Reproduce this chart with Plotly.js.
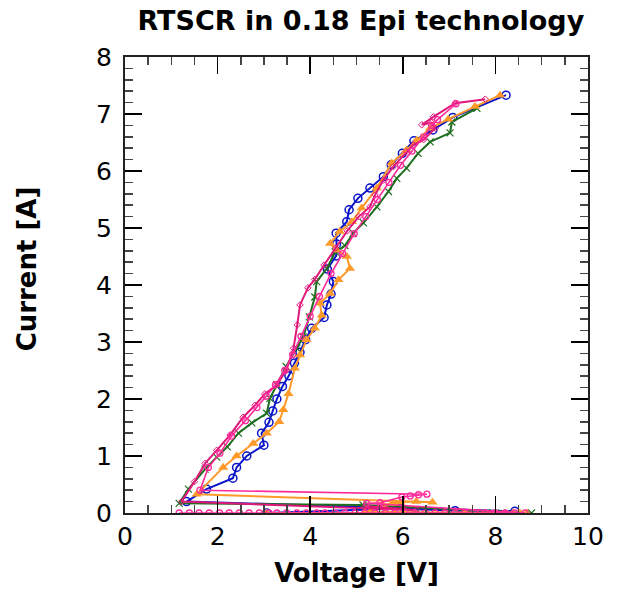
<!DOCTYPE html>
<html>
<head>
<meta charset="utf-8">
<script src="https://cdn.plot.ly/plotly-3.0.1.min.js"></script>
<style>html,body{margin:0;padding:0;background:#fff;}#chart{width:618px;height:593px;}</style>
</head>
<body>
<div id="chart"></div>
<script>
// Blue trace (open circles)
const blueV = [3.06, 5.94, 7.13, 8.42, 1.33, 1.76, 2.33, 2.41, 2.63, 3.00, 2.95, 3.11, 3.19, 3.28, 3.40, 3.54, 3.66, 3.78, 3.90, 4.03, 4.30, 4.36, 4.45, 4.50, 4.37, 4.56, 4.57, 4.56, 4.79, 4.84, 5.03, 5.29, 5.58, 5.75, 5.99, 6.24, 6.65, 7.08, 8.23];
const blueI = [0.00, 0.08, 0.04, 0.03, 0.20, 0.42, 0.61, 0.80, 1.00, 1.19, 1.40, 1.59, 1.79, 2.00, 2.22, 2.41, 2.63, 2.82, 3.04, 3.24, 3.43, 3.65, 3.84, 4.06, 4.28, 4.51, 4.72, 4.91, 5.11, 5.32, 5.52, 5.70, 5.90, 6.11, 6.31, 6.53, 6.72, 6.94, 7.33];

// Green trace (x markers)
const greenV = [6.26, 7.40, 7.81, 7.95, 8.14, 8.78, 5.14, 1.17, 1.37, 1.73, 1.98, 2.21, 2.45, 2.74, 3.06, 3.13, 3.28, 3.48, 3.71, 3.85, 3.98, 4.10, 4.14, 4.36, 4.54, 4.75, 4.93, 5.15, 5.44, 5.69, 5.87, 6.08, 6.33, 6.59, 7.02, 7.06, 7.60];
const greenI = [0.00, 0.00, 0.00, 0.00, 0.00, 0.00, 0.14, 0.17, 0.42, 0.77, 0.98, 1.16, 1.40, 1.58, 1.75, 2.01, 2.25, 2.57, 2.89, 3.09, 3.44, 3.79, 4.06, 4.29, 4.58, 4.69, 4.91, 5.09, 5.37, 5.64, 5.87, 6.05, 6.31, 6.51, 6.67, 6.86, 7.10];

// Orange trace (filled triangles)
const orangeV = [3.06, 7.34, 8.38, 8.53, 8.68, 5.18, 5.57, 5.78, 5.94, 6.29, 6.64, 1.55, 2.12, 2.41, 2.77, 3.06, 3.33, 3.42, 3.53, 3.67, 3.78, 3.92, 4.10, 4.25, 4.21, 4.43, 4.61, 4.86, 4.79, 4.57, 4.43, 4.64, 4.90, 5.11, 5.44, 5.76, 6.08, 6.30, 6.59, 6.98, 7.56, 8.10];
const orangeI = [0.00, 0.00, 0.00, 0.00, 0.00, 0.02, 0.14, 0.17, 0.19, 0.20, 0.19, 0.33, 0.80, 1.00, 1.22, 1.40, 1.60, 1.81, 2.09, 2.54, 2.77, 3.04, 3.24, 3.47, 3.68, 3.85, 4.09, 4.29, 4.50, 4.61, 4.73, 4.94, 5.11, 5.35, 5.70, 6.14, 6.37, 6.54, 6.75, 6.91, 7.13, 7.33];

// Magenta trace (small diamonds)
const magV = [5.20, 5.60, 6.00, 6.30, 1.22, 1.50, 1.73, 1.98, 2.27, 2.55, 2.81, 3.02, 3.28, 3.49, 3.64, 3.72, 3.78, 3.95, 4.10, 4.30, 4.55, 4.80, 5.05, 5.29, 5.40, 5.58, 5.80, 6.08, 6.23, 6.45, 6.70, 6.62, 6.41, 6.66, 7.13, 7.78];
const magI = [0.12, 0.10, 0.07, 0.05, 0.20, 0.55, 0.87, 1.10, 1.37, 1.68, 1.89, 2.09, 2.25, 2.51, 2.89, 3.30, 3.65, 3.95, 4.10, 4.35, 4.65, 4.95, 5.20, 5.37, 5.58, 5.84, 6.08, 6.34, 6.46, 6.55, 6.75, 6.85, 6.81, 6.95, 7.19, 7.26];

// Pink trace (open markers, leakage row along the bottom)
const pinkV = [1.17, 1.39, 1.60, 1.82, 2.04, 2.25, 2.47, 2.68, 2.90, 3.11, 3.28, 3.49, 3.71, 3.92, 4.14, 4.32, 4.54, 4.75, 4.97, 5.18, 5.40, 5.62, 5.83, 6.05, 6.26, 6.48, 6.70, 6.91, 7.13, 7.34, 7.56, 7.78, 7.99, 8.21, 8.42, 8.64, 5.22, 5.51, 5.98, 6.16, 6.34, 6.52, 1.62, 1.80, 2.05, 2.30, 2.60, 2.85, 3.05, 3.25, 3.45, 3.62, 3.80, 4.00, 4.20, 4.45, 4.70, 4.95, 5.20, 5.45, 5.70, 5.95, 6.20, 6.45, 6.62, 6.75, 7.15];
const pinkI = [0.00, 0.00, 0.00, 0.00, 0.00, 0.00, 0.00, 0.00, 0.00, 0.00, 0.00, 0.00, 0.00, 0.00, 0.00, 0.00, 0.00, 0.00, 0.00, 0.00, 0.00, 0.00, 0.00, 0.00, 0.00, 0.00, 0.00, 0.00, 0.00, 0.00, 0.00, 0.00, 0.00, 0.00, 0.00, 0.00, 0.17, 0.18, 0.28, 0.30, 0.32, 0.33, 0.40, 0.80, 1.05, 1.35, 1.62, 1.85, 2.05, 2.25, 2.50, 2.78, 3.10, 3.45, 3.80, 4.20, 4.55, 4.90, 5.20, 5.50, 5.80, 6.10, 6.35, 6.60, 6.80, 6.90, 7.18];

const traces = [
  {x: blueV, y: blueI, mode: 'lines+markers', line: {color: '#0a14c8', width: 2},
   marker: {symbol: 'circle-open', size: 8, color: '#0a14c8', line: {width: 1.5}}},
  {x: greenV, y: greenI, mode: 'lines+markers', line: {color: '#1e6e1e', width: 2},
   marker: {symbol: 'x-thin-open', size: 7, color: '#1e6e1e', line: {width: 1.2, color: '#1e6e1e'}}},
  {x: orangeV, y: orangeI, mode: 'lines+markers', line: {color: '#ff9a2a', width: 2},
   marker: {symbol: 'triangle-up', size: 9, color: '#ff9a2a'}},
  {x: magV, y: magI, mode: 'lines+markers', line: {color: '#e0187a', width: 2},
   marker: {symbol: 'diamond-open', size: 5, color: '#e0187a', line: {width: 1}}},
  {x: pinkV, y: pinkI, mode: 'lines+markers', line: {color: '#ff2a9a', width: 1.6},
   marker: {symbol: 'circle-open', size: 6, color: '#ff2a9a', line: {width: 1.3}}}
];

const fontFam = 'DejaVu Sans, Liberation Sans, Arial, sans-serif';
const layout = {
  width: 618, height: 593,
  margin: {l: 125, r: 30, t: 57, b: 80},
  paper_bgcolor: '#ffffff', plot_bgcolor: '#ffffff',
  showlegend: false,
  font: {family: fontFam, color: '#000'},
  title: {text: '<b>RTSCR in 0.18 Epi technology</b>', font: {size: 27, family: fontFam, color: '#000'},
          x: 0.584, xref: 'container', xanchor: 'center', y: 0.966, yref: 'container', yanchor: 'middle'},
  xaxis: {
    range: [0, 10], dtick: 2, tick0: 0, ticks: 'inside', ticklen: 17, tickwidth: 1.5, tickcolor: '#000',
    showline: true, linecolor: '#222', linewidth: 2, mirror: 'allticks', showgrid: false, zeroline: false,
    tickfont: {size: 25, family: fontFam, color: '#000'},
    minor: {dtick: 0.5, ticks: 'inside', ticklen: 8, tickwidth: 1.5, tickcolor: '#444', showgrid: false},
    title: {text: '<b>Voltage [V]</b>', font: {size: 26, family: fontFam, color: '#000'}, standoff: 14}
  },
  yaxis: {
    range: [0, 8], dtick: 1, tick0: 0, ticks: 'inside', ticklen: 17, tickwidth: 1.5, tickcolor: '#000',
    showline: true, linecolor: '#222', linewidth: 2, mirror: 'allticks', showgrid: false, zeroline: false,
    tickfont: {size: 25, family: fontFam, color: '#000'},
    ticklabelstandoff: 6,
    minor: {dtick: 0.2, ticks: 'inside', ticklen: 8, tickwidth: 1.5, tickcolor: '#444', showgrid: false},
    title: {text: '<b>Current [A]</b>', font: {size: 26, family: fontFam, color: '#000'}, standoff: 52}
  }
};

Plotly.newPlot('chart', traces, layout, {displayModeBar: false, staticPlot: true}).then(function (gd) {
  // the reference places the y-axis title slightly above the plot centre
  const yt = gd.querySelector('.g-ytitle');
  if (yt) yt.setAttribute('transform', 'translate(0,-16)');
});
</script>
</body>
</html>
